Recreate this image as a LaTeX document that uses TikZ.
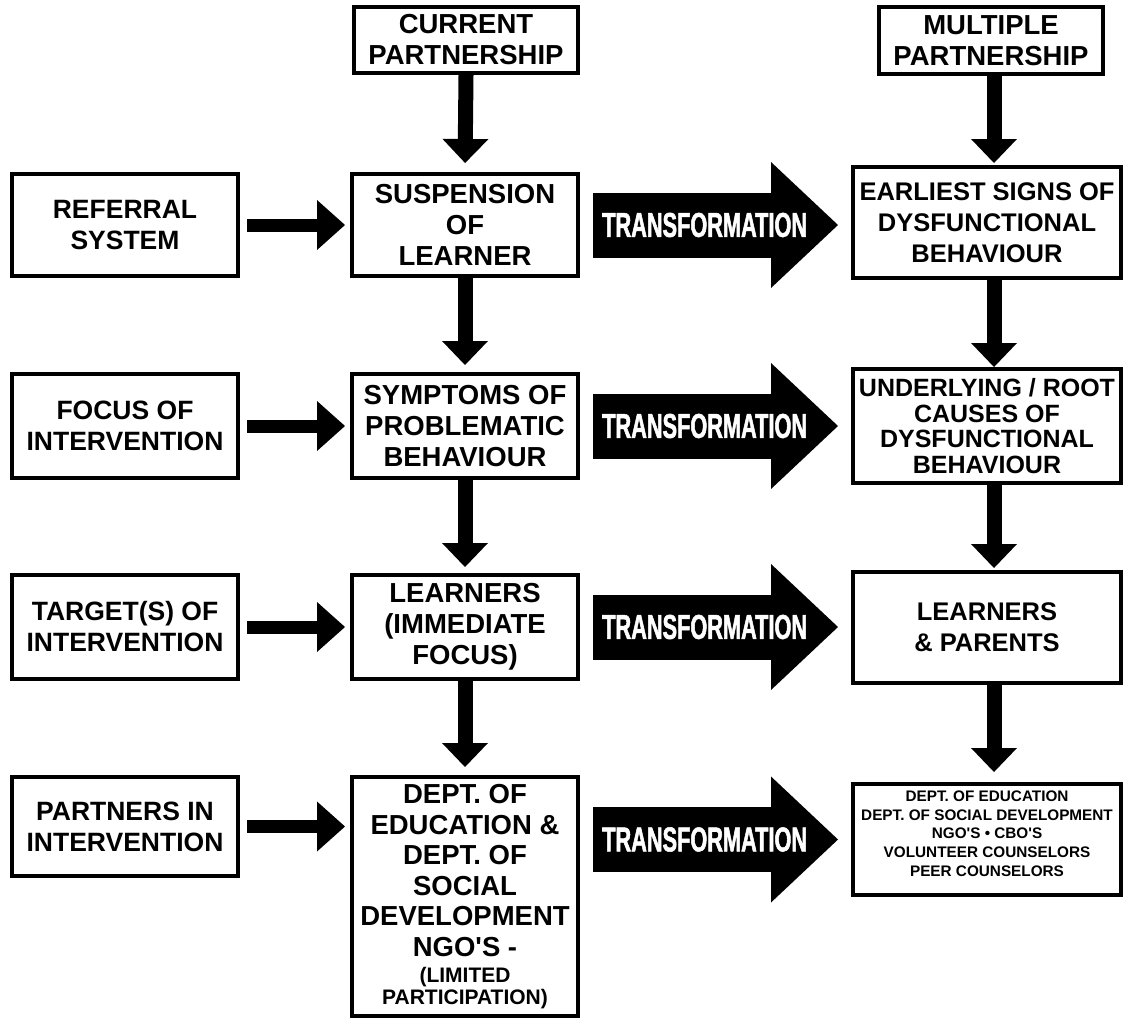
\documentclass[tikz,border=0pt]{standalone}
\usepackage{fontspec}
\setmainfont{Liberation Sans}
\newfontfamily\condfont[FakeStretch=0.63, BoldFeatures={FakeBold=1.5}]{Liberation Sans}
\usetikzlibrary{arrows.meta}
\newcommand\smalltxt{\fontsize{21}{22}\selectfont}
\newcommand\tinytxt{\fontsize{15.3}{18.8}\selectfont}

\tikzset{
  box/.style={draw, line width=4pt, rectangle, align=center, inner sep=0pt,
    font=\bfseries\fontsize{26.5}{31}\selectfont},
  leftbox/.style={box, minimum width=226pt},
  midbox/.style={box, minimum width=226pt, font=\bfseries\fontsize{27.5}{31}\selectfont},
  rightbox/.style={box, minimum width=268pt, font=\bfseries\fontsize{25.5}{31}\selectfont},
  headbox/.style={box, minimum width=224pt, font=\bfseries\fontsize{27.5}{31}\selectfont},
  downarrow/.style={line width=15pt, -{Triangle[width=46pt,length=24pt,line width=0pt]}},
  sidearrow/.style={line width=13pt, -{Triangle[width=50pt,length=28pt,line width=0pt]},
    shorten <=7pt, shorten >=5pt},
  bigarrow/.style={line width=65pt, -{Triangle[width=126pt,length=67pt,line width=0pt]},
    shorten <=13pt, shorten >=13pt},
  transtext/.style={text=white, inner sep=0pt,
    font=\condfont\bfseries\fontsize{34.5}{36}\selectfont},
}

\begin{document}
\begin{tikzpicture}[x=1pt, y=-1pt]
\useasboundingbox[fill=white] (0,0) rectangle (1131,1025);

% column headings
\node[headbox, minimum height=66pt] (cp) at (466,40) {CURRENT\\PARTNERSHIP};
\node[headbox, minimum height=67pt] (mp) at (991,40.5) {MULTIPLE\\PARTNERSHIP};

% left column: aspects of intervention
\node[leftbox, minimum height=102pt] (l1) at (125,225) {REFERRAL\\SYSTEM};
\node[leftbox, minimum height=104pt] (l2) at (125,426) {FOCUS OF\\INTERVENTION};
\node[leftbox, minimum height=104pt] (l3) at (125,627) {TARGET(S) OF\\INTERVENTION};
\node[leftbox, minimum height=99pt] (l4) at (125,826.5) {PARTNERS IN\\INTERVENTION};

% middle column: current partnership
\node[midbox, minimum height=102pt] (m1) at (465,225) {SUSPENSION\\OF\\LEARNER};
\node[midbox, minimum height=104pt] (m2) at (465,426) {SYMPTOMS OF\\PROBLEMATIC\\BEHAVIOUR};
\node[midbox, minimum height=104pt] (m3) at (465,627) {LEARNERS\\(IMMEDIATE\\FOCUS)};
\node[midbox, minimum height=239pt, font=\bfseries\fontsize{27.5}{30.5}\selectfont] (m4) at (465,896.5)
  {DEPT. OF\\EDUCATION \&\\DEPT. OF\\SOCIAL\\DEVELOPMENT\\NGO\textquotesingle S -\\[-4.5pt]{\smalltxt(LIMITED}\\[-8.5pt]{\smalltxt PARTICIPATION)}};

% right column: multiple partnership
\node[rightbox, minimum height=111pt] (r1) at (987,222.5) {EARLIEST SIGNS OF\\DYSFUNCTIONAL\\BEHAVIOUR};
\node[rightbox, minimum height=114pt, font=\bfseries\fontsize{25}{25.5}\selectfont] (r2) at (987,426)
  {UNDERLYING / ROOT\\CAUSES OF\\DYSFUNCTIONAL\\BEHAVIOUR};
\node[rightbox, minimum height=111pt] (r3) at (987,627.5) {LEARNERS\\\& PARENTS};
\node[rightbox, minimum height=111pt, text depth=12pt, font=\bfseries\tinytxt] (r4) at (987,839.5)
  {DEPT. OF EDUCATION\\DEPT. OF SOCIAL DEVELOPMENT\\NGO\textquotesingle S \textbullet{} CBO\textquotesingle S\\VOLUNTEER COUNSELORS\\PEER COUNSELORS};

% vertical flow, middle column
\draw[downarrow, shorten >=9pt] (cp.south) -- (m1.north);
\draw[downarrow, shorten >=7pt] (m1.south) -- (m2.north);
\draw[downarrow, shorten >=6pt] (m2.south) -- (m3.north);
\draw[downarrow, shorten >=8pt] (m3.south) -- (m4.north);

% vertical flow, right column
\draw[downarrow, shorten >=2pt] ([xshift=3pt]mp.south) -- ([xshift=7pt]r1.north);
\draw[downarrow, shorten >=0pt] ([xshift=7pt]r1.south) -- ([xshift=7pt]r2.north);
\draw[downarrow, shorten >=2pt] ([xshift=7pt]r2.south) -- ([xshift=7pt]r3.north);
\draw[downarrow, shorten >=10pt] ([xshift=7pt]r3.south) -- ([xshift=7pt]r4.north);

% left column into middle column
\draw[sidearrow] (l1.east) -- (l1.east -| m1.west);
\draw[sidearrow] (l2.east) -- (l2.east -| m2.west);
\draw[sidearrow] (l3.east) -- (l3.east -| m3.west);
\draw[sidearrow] (l4.east) -- (l4.east -| m4.west);

% transformation arrows
\draw[bigarrow] (m1.east) -- (m1.east -| r1.west) node[transtext, pos=0.46] {TRANSFORMATION};
\draw[bigarrow] (m2.east) -- (m2.east -| r2.west) node[transtext, pos=0.46] {TRANSFORMATION};
\draw[bigarrow] (m3.east) -- (m3.east -| r3.west) node[transtext, pos=0.46] {TRANSFORMATION};
\draw[bigarrow] (r4.west -| m4.east) -- (r4.west) node[transtext, pos=0.46] {TRANSFORMATION};
\end{tikzpicture}
\end{document}
